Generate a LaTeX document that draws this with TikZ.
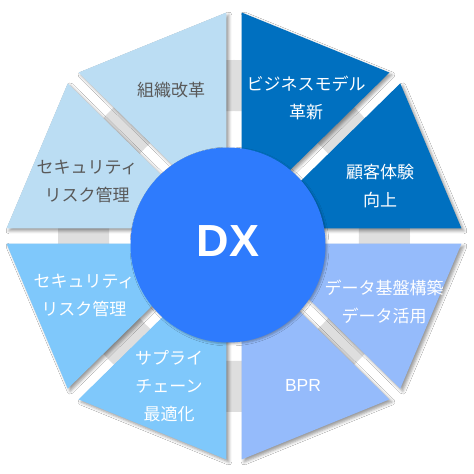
\documentclass[tikz,border=0pt]{standalone}
\usepackage{fontspec}
\newfontfamily\jp{Noto Sans CJK JP}
\newfontfamily\lat{Liberation Sans}
\usetikzlibrary{shadows.blur}
\definecolor{cLight}{HTML}{BBDDF3}
\definecolor{cDark}{HTML}{0070C0}
\definecolor{cPeri}{HTML}{95BBFB}
\definecolor{cSky}{HTML}{7FC8FB}
\definecolor{cCore}{HTML}{2E7BFD}
\definecolor{cRing}{HTML}{DEDEDE}
\definecolor{cTxt}{HTML}{595959}
\tikzset{
  sectorshadow/.style={blur shadow={shadow xshift=2.5pt,shadow yshift=-2.5pt,shadow blur radius=3pt,shadow opacity=40}},
  jtext/.style={font=\jp\fontsize{17}{28}\selectfont, align=center, inner sep=0pt},
}
\newcommand{\octsector}[2]{%
  \begin{scope}[shift={(234,238)}, shift={(#1+22.5:20)}]
    \fill[#2, sectorshadow] (0,0) -- (#1:209 and 205) -- (#1+45:209 and 205) -- cycle;
  \end{scope}}
\begin{document}
\begin{tikzpicture}[x=1pt,y=1pt]
\useasboundingbox (0,0) rectangle (474,474);
\fill[white] (0,0) rectangle (474,474);
\coordinate (O) at (234,238);
\fill[cRing, even odd rule] (O) circle (176) (O) circle (125);
\octsector{0}{cDark}
\octsector{45}{cDark}
\octsector{90}{cLight}
\octsector{135}{cLight}
\octsector{180}{cSky}
\octsector{225}{cSky}
\octsector{270}{cPeri}
\octsector{315}{cPeri}
\fill[cCore, blur shadow={shadow xshift=1.5pt,shadow yshift=-1.5pt,shadow blur radius=2pt,shadow opacity=30}] (228,229) circle (97.5);
\node[font=\lat\bfseries\fontsize{45}{45}\selectfont, text=white] (dx) at (228,233) {DX};
\node[jtext, text=cTxt] (soshiki) at (171,383.5) {組織改革};
\node[jtext, text=cTxt] (secA) at (87,293) {セキュリティ\\リスク管理};
\node[jtext, text=white] (biz) at (306,376.5) {ビジネスモデル\\革新};
\node[jtext, text=white] (cx) at (380,288) {顧客体験\\向上};
\node[jtext, text=white] (secB) at (84,179) {セキュリティ\\リスク管理};
\node[jtext, text=white] (supply) at (169,88.3) {サプライ\\チェーン\\最適化};
\node[jtext, text=white] (data) at (384,172) {データ基盤構築\\データ活用};
\node[font=\lat\fontsize{17.5}{20}\selectfont, text=white] (bpr) at (303,89) {BPR};
\end{tikzpicture}
\end{document}
